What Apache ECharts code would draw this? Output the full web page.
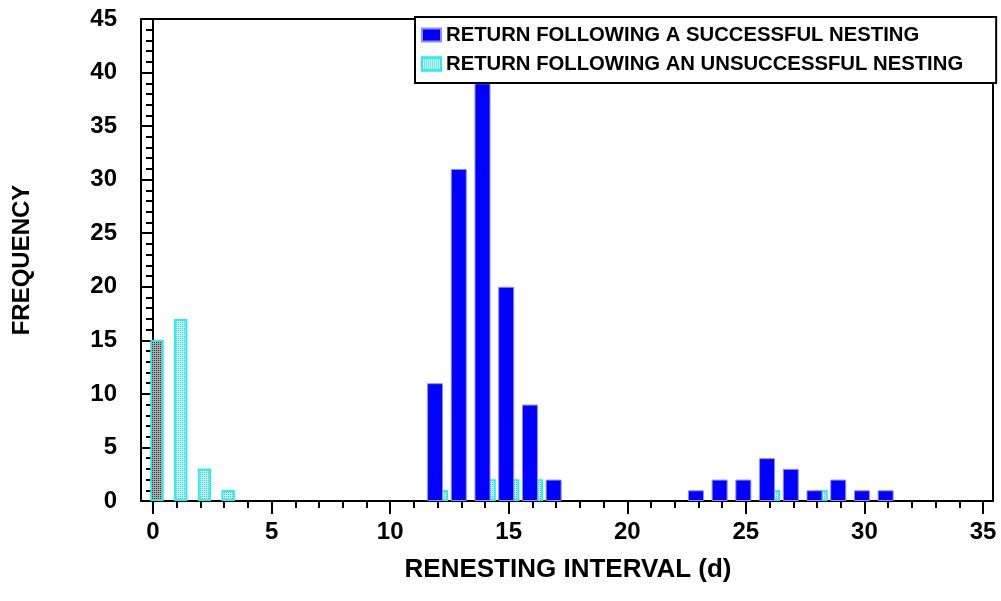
<!DOCTYPE html>
<html>
<head>
<meta charset="utf-8">
<script src="https://cdn.jsdelivr.net/npm/echarts@6/dist/echarts.min.js"></script>
<style>html,body{margin:0;padding:0;background:#fff}#c{width:1001px;height:601px}</style>
</head>
<body>
<div id="c"></div>
<script>
const successDays = [12, 13, 14, 15, 16, 17, 23, 24, 25, 26, 27, 28, 29, 30, 31];
const successCounts = [11, 31, 39, 20, 9, 2, 1, 2, 2, 4, 3, 1, 2, 1, 1];
const failDays = [0, 1, 2, 3, 12, 14, 15, 16, 26, 28];
const failCounts = [15, 17, 3, 1, 1, 2, 2, 2, 1, 1];
const seriesNames = ['RETURN FOLLOWING A SUCCESSFUL NESTING', 'RETURN FOLLOWING AN UNSUCCESSFUL NESTING'];
const xTitle = 'RENESTING INTERVAL (d)';
const yTitle = 'FREQUENCY';

const FONT = '"Liberation Sans", Arial, sans-serif';
const cyanDecal = { symbol: 'rect', symbolSize: 1, dashArrayX: [1, 1], dashArrayY: [1, 1], color: 'rgba(20,190,190,0.7)', rotation: 0 };
const greyDecal = { symbol: 'rect', symbolSize: 1, dashArrayX: [1, 1], dashArrayY: [1, 1], color: 'rgba(20,20,20,0.75)', rotation: 0 };

const successData = successDays.map((d, i) => [d, successCounts[i]]);
const failData = failDays.map((d, i) => {
  const item = { value: [d, failCounts[i]] };
  if (i === 0) item.itemStyle = { color: '#a8a8a8', decal: greyDecal };
  return item;
});

const tickStyle = { fontFamily: FONT, fontWeight: 'bold', fontSize: 24, color: '#000' };
const nameStyle = { fontFamily: FONT, fontWeight: 'bold', fontSize: 26, color: '#000' };

const chart = echarts.init(document.getElementById('c'), null, { renderer: 'canvas' });
chart.setOption({
  animation: false,
  aria: { enabled: false },
  grid: [
    { left: 153, right: 18, top: 19, bottom: 100, containLabel: false },
    { left: 141, right: 8, top: 19, bottom: 100, show: true, borderColor: '#000', borderWidth: 2, backgroundColor: 'transparent', z: 0 }
  ],
  legend: {
    orient: 'vertical',
    left: 415,
    top: 17,
    backgroundColor: '#fff',
    borderColor: '#000',
    borderWidth: 2,
    borderRadius: 0,
    padding: [8, 33, 9, 6],
    itemWidth: 19,
    itemHeight: 13,
    itemGap: 9,
    icon: 'rect',
    textStyle: { fontFamily: FONT, fontWeight: 'bold', fontSize: 20.3, color: '#000' },
    data: seriesNames,
    z: 10
  },
  xAxis: [
    {
      type: 'value', gridIndex: 0, min: 0, max: 35, interval: 5,
      name: xTitle, nameLocation: 'middle', nameGap: 56,
      nameTextStyle: nameStyle,
      axisLine: { show: true, lineStyle: { color: '#000', width: 2 } },
      axisTick: { show: true, length: 13, lineStyle: { color: '#000', width: 2 } },
      minorTick: { show: true, splitNumber: 5, length: 7, lineStyle: { color: '#000', width: 2 } },
      axisLabel: Object.assign({ margin: 19 }, tickStyle),
      splitLine: { show: false }
    },
    { type: 'value', gridIndex: 1, show: false }
  ],
  yAxis: [
    {
      type: 'value', gridIndex: 0, min: 0, max: 45, interval: 5, offset: 12,
      name: yTitle, nameLocation: 'middle', nameGap: 107,
      nameTextStyle: Object.assign({}, nameStyle, { fontSize: 24 }),
      axisLine: { show: true, lineStyle: { color: '#000', width: 2 } },
      axisTick: { show: true, length: 13, lineStyle: { color: '#000', width: 2 } },
      minorTick: { show: true, splitNumber: 5, length: 7, lineStyle: { color: '#000', width: 2 } },
      axisLabel: Object.assign({ margin: 24 }, tickStyle),
      splitLine: { show: false }
    },
    { type: 'value', gridIndex: 1, show: false }
  ],
  series: [
    {
      name: seriesNames[0], type: 'bar', xAxisIndex: 0, yAxisIndex: 0,
      data: successData, barWidth: 16, barGap: '-50%', clip: false, z: 3,
      itemStyle: { color: '#0000ff', borderColor: '#8c8cff', borderWidth: 1 }
    },
    {
      name: seriesNames[1], type: 'bar', xAxisIndex: 0, yAxisIndex: 0,
      data: failData, barWidth: 13, barGap: '-50%', clip: false, z: 2,
      itemStyle: { color: '#bdf2f2', borderColor: '#22eeee', borderWidth: 1.5, decal: cyanDecal }
    }
  ]
});
</script>
</body>
</html>
